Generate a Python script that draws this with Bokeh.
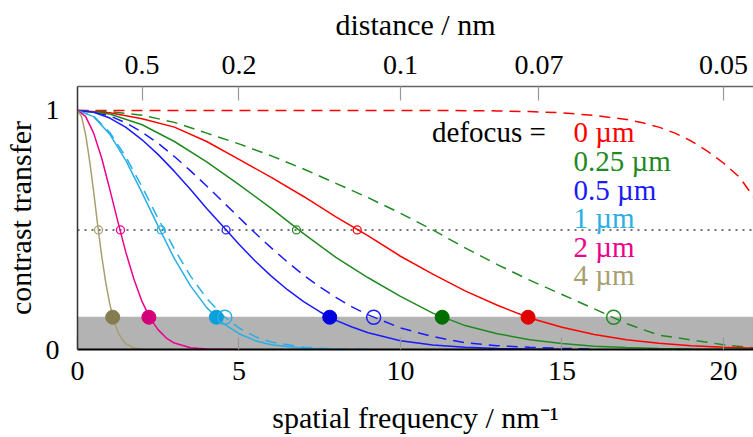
from bokeh.plotting import figure
from bokeh.models import (LinearAxis, FixedTicker, CustomJSTickFormatter,
                          BoxAnnotation, Span, Range1d)
from bokeh.embed import file_html
from bokeh.resources import INLINE
from bokeh.core.properties import value

# ---------------- data ----------------
defocus_labels = ["0 µm", "0.25 µm", "0.5 µm", "1 µm", "2 µm", "4 µm"]
colors = ["#ff0000", "#1f8a1f", "#1a1aff", "#29aee6", "#ec008c", "#a89f70"]
fill_colors = ["#e00000", "#006e00", "#0000e0", "#0aa0dc", "#d4007a", "#857d52"]

# 0 µm
x_red = [0, 1, 2, 3, 4, 5, 6, 7, 8, 9, 10, 11, 12, 13, 14, 15, 16, 17, 18, 19, 20, 21]
y_red = [1, 0.99, 0.965, 0.93, 0.87, 0.795, 0.72, 0.64, 0.555, 0.475, 0.39, 0.315,
         0.245, 0.185, 0.132, 0.093, 0.063, 0.041, 0.026, 0.016, 0.009, 0.005]
x_red_d = [0, 2, 4, 6, 8, 10, 11, 12, 13, 14, 15, 16, 17, 17.5, 18, 18.5, 19, 19.5, 20, 20.5, 21]
y_red_d = [1, 1, 1, 1, 1, 1, 1, 0.999, 0.998, 0.995, 0.99, 0.979, 0.962, 0.948,
           0.93, 0.905, 0.872, 0.83, 0.78, 0.72, 0.625]
# 0.25 µm
x_green = [0, 1, 2, 3, 4, 5, 6, 7, 8, 9, 10, 11, 12, 13, 14, 15, 16, 17, 18, 19, 20, 21]
y_green = [1, 0.985, 0.94, 0.87, 0.785, 0.69, 0.59, 0.485, 0.385, 0.30, 0.222, 0.152,
           0.10, 0.066, 0.041, 0.025, 0.014, 0.008, 0.004, 0.002, 0.001, 0.0005]
x_green_d = [0, 1, 2, 3, 4, 5, 6, 7, 8, 9, 10, 11, 12, 13, 14, 15, 16, 17, 18, 19, 20, 21]
y_green_d = [1, 0.995, 0.98, 0.95, 0.905, 0.86, 0.81, 0.755, 0.695, 0.635, 0.57, 0.50,
             0.425, 0.355, 0.29, 0.23, 0.17, 0.108, 0.06, 0.04, 0.02, 0.006]
# 0.5 µm
x_blue = [0, 0.5, 1, 1.5, 2, 2.5, 3, 3.5, 4, 4.5, 5, 5.5, 6, 6.5, 7, 7.5, 8, 8.5, 9,
          10, 11, 12, 13, 14, 15]
y_blue = [1, 0.992, 0.968, 0.929, 0.877, 0.815, 0.745, 0.669, 0.59, 0.515, 0.44, 0.37,
          0.307, 0.25, 0.20, 0.158, 0.122, 0.094, 0.07, 0.037, 0.019, 0.009, 0.004, 0.002, 0.001]
x_blue_d = [0, 0.5, 1, 1.5, 2, 2.5, 3, 3.5, 4, 4.5, 5, 5.5, 6, 6.5, 7, 7.5, 8, 8.5, 9,
            10, 11, 12, 13, 14, 15, 16]
y_blue_d = [1, 0.994, 0.977, 0.948, 0.909, 0.862, 0.807, 0.747, 0.684, 0.618, 0.552,
            0.487, 0.425, 0.366, 0.311, 0.262, 0.218, 0.178, 0.145, 0.09, 0.054, 0.028,
            0.016, 0.009, 0.005, 0.002]
# 1 µm
x_cyan = [0, 0.5, 1, 1.5, 2, 2.5, 3, 3.5, 4, 4.5, 5, 5.5, 6, 7, 8, 9]
y_cyan = [1, 0.974, 0.90, 0.79, 0.655, 0.515, 0.38, 0.266, 0.175, 0.11, 0.066, 0.037,
          0.02, 0.005, 0.001, 0]
x_cyan_d = [0, 0.5, 1, 1.5, 2, 2.5, 3, 3.5, 4, 4.5, 5, 5.5, 6, 7, 8, 9]
y_cyan_d = [1, 0.976, 0.908, 0.805, 0.68, 0.547, 0.42, 0.307, 0.214, 0.142, 0.09, 0.054,
            0.031, 0.009, 0.002, 0]
# 2 µm
x_pink = [0, 0.25, 0.5, 0.75, 1, 1.25, 1.5, 1.75, 2, 2.25, 2.5, 2.75, 3, 3.5, 4, 5]
y_pink = [1, 0.975, 0.905, 0.80, 0.67, 0.535, 0.405, 0.293, 0.20, 0.13, 0.082, 0.048,
          0.027, 0.007, 0.0016, 0]
# 4 µm
x_brown = [0, 0.125, 0.25, 0.375, 0.5, 0.625, 0.75, 0.875, 1, 1.125, 1.25, 1.375, 1.5,
           1.75, 2, 2.5]
y_brown = [1, 0.974, 0.90, 0.79, 0.66, 0.52, 0.39, 0.28, 0.19, 0.121, 0.074, 0.043,
           0.024, 0.006, 0.001, 0]

solid_x = [x_red, x_green, x_blue, x_cyan, x_pink, x_brown]
solid_y = [y_red, y_green, y_blue, y_cyan, y_pink, y_brown]
dashed_x = [x_red_d, x_green_d, x_blue_d, x_cyan_d]
dashed_y = [y_red_d, y_green_d, y_blue_d, y_cyan_d]

half_level = 0.5
thresh_level = 0.135
half_x = [8.66, 6.78, 4.6, 2.59, 1.33, 0.65]          # solid curves crossing 0.5
thresh_x = [13.95, 11.29, 7.81, 4.30, 2.21, 1.09]     # solid curves crossing 0.135
thresh_x_d = [None, 16.6, 9.17, 4.56]                 # dashed curves crossing 0.135

x_ticks = [0, 5, 10, 15, 20]
y_ticks = [0, 1]
dist_ticks = [0.5, 0.2, 0.1, 0.07, 0.05]

# ---------------- figure ----------------
FONT = "Liberation Serif"
p = figure(width=753, height=437, x_range=Range1d(0, 20.93), y_range=Range1d(0, 1.1),
           output_backend="svg", toolbar_location=None,
           min_border_left=77, min_border_right=0, min_border_top=86, min_border_bottom=88)
p.outline_line_color = None
p.xgrid.visible = False
p.ygrid.visible = False
p.background_fill_color = "white"

band = BoxAnnotation(bottom=0, top=thresh_level, fill_color="#b3b3b3", fill_alpha=1.0,
                     line_color="#7a7a7a", line_width=1.2, level="underlay")
p.add_layout(band)
p.add_layout(Span(location=half_level, dimension="width", line_color="#444444",
                  line_width=1.6, line_dash="2 5", level="underlay"))

for xs, ys, c in zip(dashed_x, dashed_y, colors):
    p.line(xs, ys, line_color=c, line_width=1.5, line_dash="11 7")
for xs, ys, c in zip(solid_x, solid_y, colors):
    p.line(xs, ys, line_color=c, line_width=1.5)

# markers
p.scatter(half_x, [half_level] * len(half_x), size=8, marker="circle",
          fill_color=None, line_color=colors, line_width=1.3)
p.scatter(thresh_x, [thresh_level] * len(thresh_x), size=14, marker="circle",
          fill_color=fill_colors, line_color=fill_colors, line_width=1)
od_x = [v for v in thresh_x_d if v is not None]
od_c = [c for v, c in zip(thresh_x_d, colors) if v is not None]
p.scatter(od_x, [thresh_level] * len(od_x), size=14, marker="circle",
          fill_color=None, line_color=od_c, line_width=1.5)

# legend-like text
leg_x = 15.36
leg_y0 = 0.908
leg_step = 0.1195
p.text(x=[leg_x] * len(defocus_labels),
       y=[leg_y0 - i * leg_step for i in range(len(defocus_labels))],
       text=defocus_labels, text_color=colors, text_font=value(FONT),
       text_font_size="29px", text_baseline="middle", text_align="left")
p.text(x=[14.5], y=[leg_y0], text=["defocus ="], text_color="black",
       text_font=value(FONT), text_font_size="29px", text_baseline="middle",
       text_align="right")

# bottom axis
xa = p.xaxis[0]
xa.ticker = FixedTicker(ticks=x_ticks)
xa.axis_label = "spatial frequency / nm⁻¹"
xa.major_tick_in = 12
xa.major_tick_out = 0
xa.major_tick_line_color = "#999999"
xa.major_tick_line_width = 1.2
xa.minor_tick_line_color = None
xa.axis_line_color = "black"
xa.axis_line_width = 2
xa.major_label_standoff = 12
xa.axis_label_standoff = 18

# left axis
ya = p.yaxis[0]
ya.ticker = FixedTicker(ticks=y_ticks)
ya.axis_label = "contrast transfer"
ya.major_tick_line_color = None
ya.minor_tick_line_color = None
ya.axis_line_color = "#333333"
ya.axis_line_width = 1.5
ya.major_label_standoff = 12
ya.axis_label_standoff = 6

# top axis (distance = 1 / spatial frequency)
top = LinearAxis(ticker=FixedTicker(ticks=[1.0 / d for d in dist_ticks]),
                 formatter=CustomJSTickFormatter(code="return (1/tick).toPrecision(1);"),
                 axis_label="distance / nm")
top.major_tick_in = 14
top.major_tick_out = 0
top.major_tick_line_color = "#999999"
top.major_tick_line_width = 1.2
top.minor_tick_line_color = None
top.axis_line_color = "#666666"
top.axis_line_width = 1.5
top.major_label_standoff = 13
top.axis_label_standoff = 12
p.add_layout(top, "above")

for ax in (xa, ya, top):
    ax.major_label_text_font = FONT
    ax.major_label_text_font_size = "28px"
    ax.major_label_text_color = "black"
    ax.axis_label_text_font = FONT
    ax.axis_label_text_font_size = "30px"
    ax.axis_label_text_font_style = "normal"
    ax.axis_label_text_color = "black"

open("out.html", "w").write(file_html(p, INLINE))
